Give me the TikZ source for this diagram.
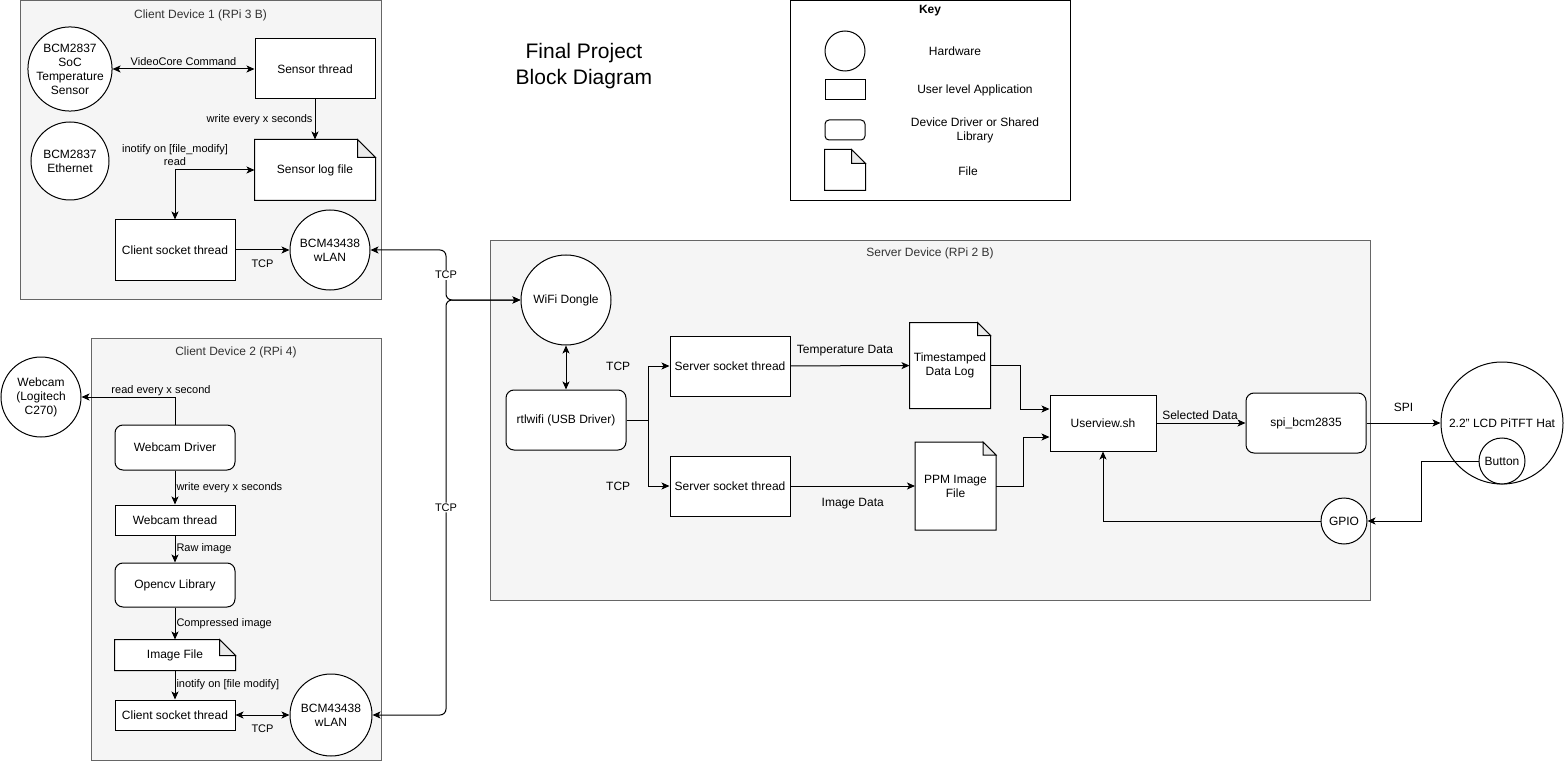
\documentclass[tikz,border=0pt]{standalone}
\usepackage{fontspec}
\setmainfont{Liberation Sans}
\usetikzlibrary{arrows.meta,positioning}

\definecolor{cbg}{HTML}{F5F5F5}
\definecolor{cline}{HTML}{666666}
\definecolor{ctext}{HTML}{333333}

% folded corner of a file node: [size]{node}{colour behind it}
\newcommand{\fold}[3][14pt]{%
  \fill[#3] ([xshift=-#1]#2.north east) -- (#2.north east) -- ([yshift=-#1]#2.north east) -- cycle;
  \draw (#2.north west) -- ([xshift=-#1]#2.north east) -- ([yshift=-#1]#2.north east)
    -- (#2.south east) -- (#2.south west) -- cycle;
  \draw[fill=black!8] ([xshift=-#1]#2.north east) |- ([yshift=-#1]#2.north east) -- cycle;
}

\begin{document}
\begin{tikzpicture}[x=1pt,y=-1pt,line width=1pt,
  >={Stealth[length=8pt,width=7pt,inset=2pt]},
  font=\fontsize{12}{14}\selectfont,
  hw/.style={circle,draw,fill=white,align=center,inner sep=0pt},
  app/.style={rectangle,draw,fill=white,align=center,inner sep=0pt,
    minimum width=120pt,minimum height=60pt},
  drv/.style={app,rounded corners=8pt},
  doc/.style={rectangle,fill=white,align=center,inner sep=0pt},
  box/.style={rectangle,draw=cline,fill=cbg,anchor=north west,inner sep=0pt},
  title/.style={text=ctext},
  tag/.style={font=\fontsize{11}{13}\selectfont}]
  \useasboundingbox (0,0) rectangle (1564,762);

  % containers
  \node[box,minimum width=361pt,minimum height=298.5pt] (dev1) at (20,0.5) {};
  \node[title] (dev1t) at (200.5,15) {Client Device 1 (RPi 3 B)};
  \node[box,minimum width=290pt,minimum height=422pt] (dev2) at (91,338) {};
  \node[title] (dev2t) at (236,352) {Client Device 2 (RPi 4)};
  \node[box,minimum width=880pt,minimum height=360pt] (srv) at (490,240) {};
  \node[title] (srvt) at (930,253) {Server Device (RPi 2 B)};

  \node[font=\fontsize{21}{26}\selectfont,align=center] (ttl) at (584,66)
    {Final Project\\Block Diagram};

  % key
  \node[box,draw=black,fill=white,minimum width=280pt,minimum height=199.5pt] (key) at (790,0.5) {};
  \node[font=\fontsize{12}{14}\bfseries] (keyt) at (930,11) {Key};
  \node[hw,minimum size=40pt] (khw) at (845,51) {};
  \node (khwt) at (955,51) {Hardware};
  \node[app,minimum width=40pt,minimum height=20pt] (kapp) at (845,90) {};
  \node (kappt) at (975,90) {User level Application};
  \node[drv,minimum width=40pt,minimum height=20pt,rounded corners=4pt] (kdrv) at (845,130) {};
  \node[align=center] (kdrvt) at (975,130) {Device Driver or Shared\\Library};
  \node[doc,minimum width=40pt,minimum height=40pt] (kdoc) at (845,170) {};
  \fold[14pt]{kdoc}{white}
  \node (kdoct) at (968,171) {File};

  % client device 1
  \node[hw,minimum size=78pt] (soc) at (70,69) {BCM2837\\SoC\\Temperature\\Sensor};
  \node[hw,minimum size=78pt] (eth) at (70,161) {BCM2837\\Ethernet};
  \node[app] (sth) at (315,69) {Sensor thread};
  \node[doc,minimum width=120pt,minimum height=60pt] (slog) at (315,170) {Sensor log file};
  \fold[18pt]{slog}{cbg}
  \node[app] (cst1) at (175,250) {Client socket thread};
  \node[hw,minimum size=80pt] (wlan1) at (330,250) {BCM43438\\wLAN};

  \draw[<->] (soc) -- (sth) node[midway,above,tag] {VideoCore Command};
  \draw[->] (sth) -- (slog) node[midway,left,tag,inner sep=2pt] {write every x seconds};
  \draw[<->] (cst1.north) |- (slog.west)
    node[pos=0.5,above,tag,align=center,yshift=1pt] {inotify on [file\_modify]\\read};
  \draw[->] (cst1) -- (wlan1) node[midway,below=6pt,tag] {TCP};

  % client device 2
  \node[hw,minimum size=80pt] (cam) at (41,397) {Webcam\\(Logitech\\C270)};
  \node[drv,minimum height=45pt] (wdrv) at (175,447.5) {Webcam Driver};
  \node[app,minimum height=30pt] (wth) at (175,520) {Webcam thread};
  \node[drv,minimum height=44pt] (ocv) at (175,585) {Opencv Library};
  \node[doc,minimum width=120pt,minimum height=30pt] (img) at (175,655) {Image File};
  \fold[16pt]{img}{cbg}
  \node[app,minimum height=30pt] (cst2) at (175,715) {Client socket thread};
  \node[hw,minimum size=82pt] (wlan2) at (331,715) {BCM43438\\wLAN};

  \draw[->] (wdrv.north) |- (cam.east)
    node[pos=0.5,anchor=south,xshift=-14pt,inner sep=1pt,tag] {read every x second};
  \draw[->] (wdrv) -- (wth) node[midway,right,inner sep=1pt,tag] {write every x seconds};
  \draw[->] (wth) -- (ocv) node[midway,right,inner sep=1pt,tag] {Raw image};
  \draw[->] (ocv) -- (img) node[midway,right,inner sep=1pt,tag] {Compressed image};
  \draw[->] (img) -- (cst2) node[midway,right,inner sep=1pt,tag] {inotify on [file modify]};
  \draw[<->] (cst2) -- (wlan2) node[midway,below=6pt,tag] {TCP};

  % server device
  \node[hw,minimum size=90pt] (dongle) at (566,300) {WiFi Dongle};
  \node[drv] (rtl) at (566,420) {rtlwifi (USB Driver)};
  \node[app] (sst1) at (730,366) {Server socket thread};
  \node[app] (sst2) at (730,486) {Server socket thread};
  \node[doc,minimum width=80pt,minimum height=85pt] (tlog) at (950,365.5) {Timestamped\\Data Log};
  \fold[13pt]{tlog}{cbg}
  \node[doc,minimum width=80pt,minimum height=87pt] (ppm) at (955.5,486) {PPM Image\\File};
  \fold[13pt]{ppm}{cbg}
  \node[app,minimum width=106pt,minimum height=56pt] (usr) at (1103,423) {Userview.sh};
  \node[drv] (spi) at (1306,423) {spi\_bcm2835};
  \node[hw,minimum size=46pt] (gpio) at (1344,521) {GPIO};
  \node[hw,minimum size=122pt] (lcd) at (1502,423) {2.2" LCD PiTFT Hat};
  \node[hw,minimum size=46pt] (btn) at (1502,461) {Button};

  % network between the boards
  \coordinate (bus) at (446,0);
  \draw[<->,rounded corners=6pt] (wlan1.east)
    -| node[pos=0.75,fill=white,inner sep=1pt,tag] {TCP} (bus |- dongle.west) -- (dongle.west);
  \draw[<->,rounded corners=6pt] (wlan2.east)
    -| node[pos=0.75,fill=white,inner sep=1pt,tag] {TCP} (bus |- dongle.west) -- (dongle.west);

  \draw[<->] (dongle) -- (rtl);
  \coordinate (fork) at (648,420);
  \draw (rtl.east) -- (fork);
  \draw[->] (fork) |- (sst1.west) node[pos=0.5,left=14pt] {TCP};
  \draw[->] (fork) |- (sst2.west) node[pos=0.5,left=14pt] {TCP};
  \draw[->] (sst1) -- (tlog) node[midway,above=6pt,xshift=-5pt] {Temperature Data};
  \draw[->] (sst2) -- (ppm) node[midway,below=8pt] {Image Data};
  \draw[->] (tlog.east) -- ++(30,0) |- ([yshift=14pt]usr.west);
  \draw[->] (ppm.east) -- ++(27,0) |- ([yshift=-14pt]usr.west);
  \draw[->] (usr) -- (spi) node[midway,above,xshift=-1pt] {Selected Data};
  \draw[->] (spi) -- (lcd) node[midway,above=8pt] {SPI};
  \draw[->] (btn.west) -- ++(-57,0) |- (gpio.east);
  \draw[->] (gpio.west) -| (usr.south);
\end{tikzpicture}
\end{document}
